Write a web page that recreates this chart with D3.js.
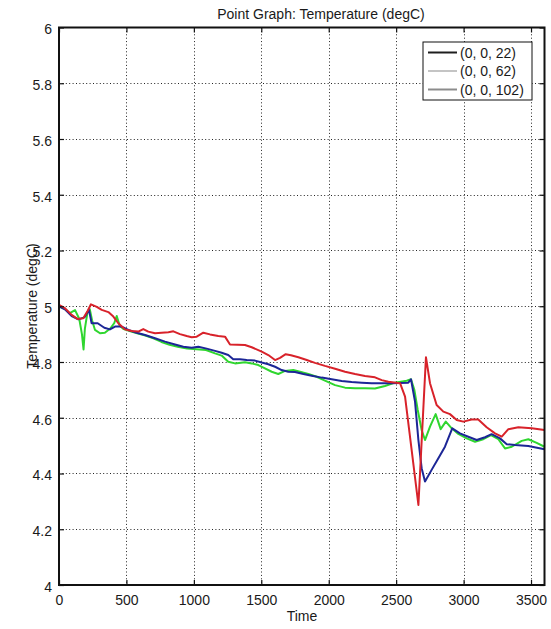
<!DOCTYPE html>
<html>
<head>
<meta charset="utf-8">
<script src="https://cdn.jsdelivr.net/npm/d3@7"></script>
<style>
  body { margin: 0; background: #fff; }
  text { font-family: "Liberation Sans", Arial, sans-serif; fill: #1a1a1a; }
</style>
</head>
<body>
<svg id="chart" width="551" height="629"></svg>
<script>
// Point probe temperatures over time at three depths
const seriesNames = ["(0, 0, 22)", "(0, 0, 62)", "(0, 0, 102)"];

const time22 = [0, 44, 94, 143, 188, 222, 242, 287, 336, 378, 415, 465, 514, 576, 638, 712, 786, 860, 922, 984,
  1033, 1095, 1157, 1206, 1255, 1292, 1342, 1392, 1453, 1503, 1552, 1602, 1651, 1700, 1750, 1812, 1874, 1948,
  2022, 2096, 2170, 2245, 2319, 2393, 2467, 2590, 2610, 2640, 2665, 2689, 2714, 2763, 2813, 2862, 2916, 2973,
  3035, 3097, 3159, 3208, 3270, 3320, 3381, 3480, 3600];
const temp22 = [5.000, 4.989, 4.965, 4.953, 4.960, 4.987, 4.939, 4.939, 4.923, 4.917, 4.927, 4.927, 4.915, 4.905,
  4.897, 4.885, 4.873, 4.863, 4.855, 4.851, 4.855, 4.848, 4.840, 4.833, 4.825, 4.810, 4.810, 4.807, 4.805, 4.798,
  4.792, 4.783, 4.771, 4.765, 4.764, 4.757, 4.751, 4.744, 4.738, 4.732, 4.728, 4.726, 4.724, 4.724, 4.724, 4.726,
  4.738, 4.658, 4.520, 4.419, 4.371, 4.413, 4.455, 4.496, 4.562, 4.544, 4.532, 4.520, 4.530, 4.541, 4.526, 4.505,
  4.502, 4.499, 4.487];

const time62 = [0, 44, 80, 119, 150, 170, 182, 192, 210, 228, 245, 267, 304, 340, 380, 410, 428, 450, 480, 530,
  580, 640, 700, 760, 820, 880, 950, 1020, 1090, 1157, 1206, 1255, 1305, 1379, 1429, 1478, 1527, 1577, 1626,
  1676, 1737, 1787, 1849, 1911, 1972, 2047, 2121, 2195, 2269, 2343, 2417, 2491, 2578, 2610, 2635, 2660, 2689,
  2714, 2751, 2793, 2830, 2868, 2912, 2961, 3023, 3085, 3146, 3203, 3258, 3307, 3357, 3431, 3480, 3542, 3600];
const temp62 = [5.000, 4.990, 4.975, 4.986, 4.955, 4.900, 4.845, 4.920, 4.975, 4.990, 4.950, 4.915, 4.903, 4.905,
  4.920, 4.940, 4.965, 4.930, 4.918, 4.910, 4.903, 4.895, 4.885, 4.872, 4.862, 4.855, 4.848, 4.846, 4.843, 4.831,
  4.823, 4.801, 4.795, 4.799, 4.795, 4.789, 4.777, 4.765, 4.757, 4.768, 4.771, 4.765, 4.757, 4.747, 4.733, 4.717,
  4.708, 4.706, 4.706, 4.705, 4.714, 4.726, 4.733, 4.738, 4.700, 4.628, 4.556, 4.520, 4.568, 4.613, 4.559, 4.586,
  4.562, 4.542, 4.526, 4.514, 4.523, 4.538, 4.523, 4.490, 4.496, 4.517, 4.523, 4.510, 4.496];

const time102 = [0, 44, 94, 139, 180, 213, 237, 280, 317, 366, 403, 440, 489, 539, 588, 625, 662, 712, 761, 811,
  848, 897, 947, 984, 1021, 1070, 1120, 1181, 1231, 1268, 1379, 1429, 1503, 1552, 1602, 1639, 1681, 1720, 1775,
  1837, 1898, 1972, 2047, 2121, 2195, 2269, 2343, 2393, 2442, 2529, 2566, 2615, 2665, 2721, 2751, 2800, 2850,
  2899, 2949, 2998, 3060, 3109, 3171, 3233, 3283, 3332, 3406, 3505, 3600];
const temp102 = [5.005, 4.993, 4.969, 4.954, 4.957, 4.984, 5.007, 4.998, 4.987, 4.979, 4.963, 4.939, 4.917, 4.911,
  4.909, 4.918, 4.909, 4.903, 4.905, 4.907, 4.910, 4.900, 4.893, 4.889, 4.891, 4.905, 4.899, 4.893, 4.891, 4.863,
  4.861, 4.853, 4.837, 4.825, 4.807, 4.815, 4.828, 4.824, 4.817, 4.807, 4.797, 4.786, 4.776, 4.765, 4.757, 4.750,
  4.745, 4.735, 4.729, 4.724, 4.676, 4.484, 4.287, 4.817, 4.724, 4.646, 4.622, 4.613, 4.592, 4.586, 4.594, 4.594,
  4.566, 4.544, 4.532, 4.559, 4.566, 4.562, 4.556];

const xTicks = [0, 500, 1000, 1500, 2000, 2500, 3000, 3500];
const yTicks = [4, 4.2, 4.4, 4.6, 4.8, 5, 5.2, 5.4, 5.6, 5.8, 6];

const svg = d3.select("#chart");
const plotLeft = 59, plotRight = 544.5, plotTop = 27.5, plotBottom = 585;

const x = d3.scaleLinear().domain([0, 3600]).range([plotLeft, plotRight]);
const y = d3.scaleLinear().domain([4, 6]).range([plotBottom, plotTop]);

svg.append("rect").attr("width", 551).attr("height", 629).attr("fill", "#fff");

// dotted grid
const grid = svg.append("g").attr("stroke", "#222").attr("stroke-width", 1)
  .attr("stroke-dasharray", "1,2.4");
grid.selectAll(".gx").data(xTicks.slice(1)).join("line")
  .attr("x1", d => Math.round(x(d)) + 0.5).attr("x2", d => Math.round(x(d)) + 0.5)
  .attr("y1", plotTop).attr("y2", plotBottom);
grid.selectAll(".gy").data(yTicks.slice(1, -1)).join("line")
  .attr("y1", d => Math.round(y(d)) + 0.5).attr("y2", d => Math.round(y(d)) + 0.5)
  .attr("x1", plotLeft).attr("x2", plotRight);

// temperature traces
const series = [
  { name: seriesNames[1], t: time62, v: temp62, color: "#2fd62f" },
  { name: seriesNames[0], t: time22, v: temp22, color: "#1c2696" },
  { name: seriesNames[2], t: time102, v: temp102, color: "#d8222a" }
];
const line = d3.line().x(d => x(d[0])).y(d => y(d[1]));
svg.append("g").selectAll("path").data(series).join("path")
  .attr("d", s => line(d3.zip(s.t, s.v)))
  .attr("fill", "none")
  .attr("stroke", s => s.color)
  .attr("stroke-width", 2)
  .attr("stroke-linejoin", "round");

// axes with inward ticks
const fs = "14px";
svg.append("g").attr("transform", `translate(0,${plotBottom})`)
  .call(d3.axisBottom(x).tickValues(xTicks).tickFormat(d3.format("d")).tickSizeInner(-5).tickSizeOuter(0).tickPadding(10))
  .call(g => g.select(".domain").remove())
  .call(g => g.selectAll("text").style("font-size", fs).attr("fill", "#1a1a1a"));
svg.append("g").attr("transform", `translate(0,${plotTop})`)
  .call(d3.axisTop(x).tickValues(xTicks).tickFormat("").tickSizeInner(-5).tickSizeOuter(0))
  .call(g => g.select(".domain").remove());
svg.append("g").attr("transform", `translate(${plotLeft},0)`)
  .call(d3.axisLeft(y).tickValues(yTicks).tickFormat(d3.format("~g")).tickSizeInner(-5).tickSizeOuter(0).tickPadding(7))
  .call(g => g.select(".domain").remove())
  .call(g => g.selectAll("text").style("font-size", fs).attr("fill", "#1a1a1a").attr("dy", "0.45em"));
svg.append("g").attr("transform", `translate(${plotRight},0)`)
  .call(d3.axisRight(y).tickValues(yTicks).tickFormat("").tickSizeInner(-5).tickSizeOuter(0))
  .call(g => g.select(".domain").remove());
svg.selectAll(".tick line").attr("stroke", "#111").attr("stroke-width", 1.2);

// frame
svg.append("rect").attr("x", plotLeft).attr("y", plotTop)
  .attr("width", plotRight - plotLeft).attr("height", plotBottom - plotTop)
  .attr("fill", "none").attr("stroke", "#111").attr("stroke-width", 2);

// titles
svg.append("text").attr("x", 321).attr("y", 19).attr("text-anchor", "middle")
  .style("font-size", fs).text("Point Graph: Temperature (degC)");
svg.append("text").attr("x", 302).attr("y", 621).attr("text-anchor", "middle")
  .style("font-size", fs).text("Time");
svg.append("text").attr("transform", "translate(37,306) rotate(-90)").attr("text-anchor", "middle")
  .style("font-size", fs).text("Temperature (degC)");

// legend
const legendColors = ["#1e1e1e", "#c4c4c4", "#8c8c8c"];
const lg = svg.append("g").attr("transform", "translate(423,42)");
lg.append("rect").attr("width", 109).attr("height", 58)
  .attr("fill", "#fff").attr("stroke", "#111").attr("stroke-width", 1);
const items = lg.selectAll("g").data(seriesNames).join("g")
  .attr("transform", (d, i) => `translate(0,${10.5 + i * 18.5})`);
items.append("line").attr("x1", 5).attr("x2", 34)
  .attr("stroke", (d, i) => legendColors[i]).attr("stroke-width", 2);
items.append("text").attr("x", 37).attr("dy", "0.36em")
  .style("font-size", fs).text(d => d);
</script>
</body>
</html>
